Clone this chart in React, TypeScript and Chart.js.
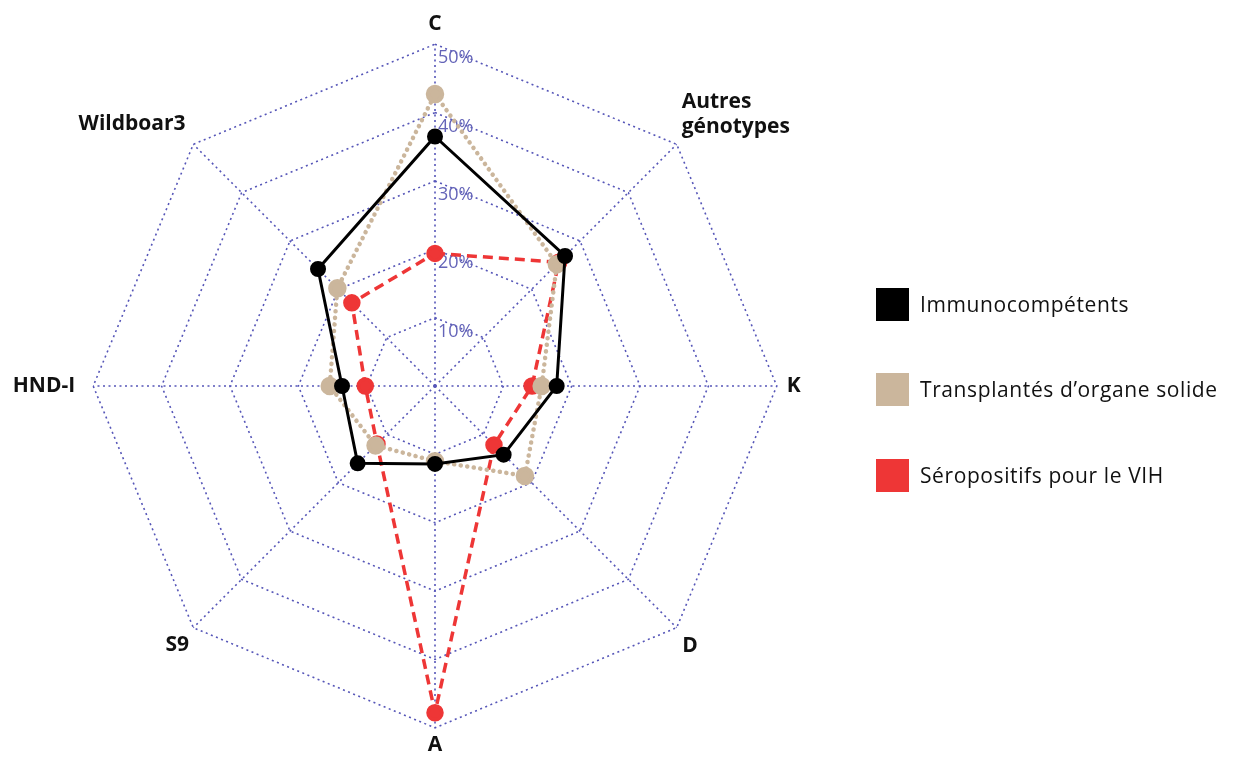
import React, { useEffect, useRef } from "react";
import { Chart, registerables } from "chart.js";

Chart.register(...registerables);

// ---- data ----
const categories: (string | string[])[] = ["C", ["Autres", "génotypes"], "K", "D", "A", "S9", "HND-I", "Wildboar3"];
const immunocompetents = [36.5, 26.9, 17.8, 14.2, 11.4, 16.0, 13.6, 24.2];
const transplantes = [42.7, 25.2, 15.6, 18.6, 11.0, 12.3, 15.4, 20.2];
const seropositifs = [19.4, 25.6, 14.2, 12.2, 47.8, 12.0, 10.2, 17.2];
const seriesNames = ["Immunocompétents", "Transplantés d’organe solide", "Séropositifs pour le VIH"];
const seriesColors = ["#000000", "#cbb69c", "#ee3636"];
const scaleMax = 50;
const scaleStep = 10;
const labelPadding = [8, 7, 10, 8, 5, 6, 18, 11];

const gridColor = "#5656b8";
const tickColor = "#6464b8";

const tickLabelPlugin = {
  id: "tickLabelsRight",
  beforeDatasetsDraw(chart: any) {
    const scale = chart.scales.r;
    const ctx = chart.ctx;
    ctx.save();
    ctx.font = '500 18px "Open Sans"';
    ctx.fillStyle = tickColor;
    ctx.textAlign = "left";
    ctx.textBaseline = "middle";
    scale.ticks.forEach((t: any) => {
      if (t.value <= 0) return;
      const p = scale.getPointPositionForValue(0, t.value);
      ctx.fillText(`${t.value}%`, p.x + 3, p.y + 14);
    });
    ctx.restore();
  },
};

export default function App() {
  const canvasRef = useRef<HTMLCanvasElement | null>(null);

  useEffect(() => {
    document.body.style.margin = "0";
    const canvas = canvasRef.current;
    if (!canvas) return;
    const chart = new Chart(canvas, {
      type: "radar",
      data: {
        labels: categories as any,
        datasets: [
          {
            label: seriesNames[0],
            data: immunocompetents,
            borderColor: seriesColors[0],
            backgroundColor: seriesColors[0],
            pointBackgroundColor: seriesColors[0],
            pointBorderColor: seriesColors[0],
            borderWidth: 3,
            pointRadius: 6.5,
            fill: false,
          },
          {
            label: seriesNames[1],
            data: transplantes,
            borderColor: seriesColors[1],
            backgroundColor: seriesColors[1],
            pointBackgroundColor: seriesColors[1],
            pointBorderColor: seriesColors[1],
            borderWidth: 4.5,
            borderDash: [0.1, 6.5],
            borderCapStyle: "round",
            pointRadius: 7,
            fill: false,
          },
          {
            label: seriesNames[2],
            data: seropositifs,
            borderColor: seriesColors[2],
            backgroundColor: seriesColors[2],
            pointBackgroundColor: seriesColors[2],
            pointBorderColor: seriesColors[2],
            borderWidth: 3.5,
            borderDash: [10, 6],
            pointRadius: 7,
            fill: false,
          },
        ],
      },
      options: {
        animation: false,
        responsive: false,
        events: [],
        plugins: {
          legend: { display: false },
          tooltip: { enabled: false },
        },
        scales: {
          r: {
            min: 0,
            max: scaleMax,
            ticks: { stepSize: scaleStep, display: false, callback: (v: any) => `${v}%` },
            grid: { color: gridColor, lineWidth: 1.6, circular: false, borderDash: [2, 3.5] } as any,
            border: { dash: [2, 3.5] } as any,
            angleLines: { color: gridColor, lineWidth: 1.6, borderDash: [2, 3.5] },
            pointLabels: {
              color: "#111111",
              font: { family: '"Open Sans"', size: 21, weight: "bold" as any },
              padding: (ctx: any) => labelPadding[ctx.index] ?? 8,
            },
          },
        },
      },
      plugins: [tickLabelPlugin],
    });
    return () => chart.destroy();
  }, []);

  const legendRows = [304, 389, 475];

  return (
    <div style={{ position: "relative", width: 1242, height: 760, overflow: "hidden", background: "#fff" }}>
      <canvas
        ref={canvasRef}
        width={910}
        height={750}
        style={{ position: "absolute", left: -20, top: 10, width: 910, height: 750 }}
      />
      {seriesNames.map((name, i) => (
        <div
          key={name}
          style={{
            position: "absolute",
            left: 876,
            top: legendRows[i] - 17,
            height: 34,
            display: "flex",
            alignItems: "center",
            zIndex: 2,
          }}
        >
          <div style={{ width: 33, height: 33, background: seriesColors[i], flex: "none" }} />
          <span
            style={{
              marginLeft: 11,
              fontFamily: '"Open Sans", sans-serif',
              fontSize: 21,
              letterSpacing: 0.6,
              color: "#111",
              whiteSpace: "nowrap",
            }}
          >
            {name}
          </span>
        </div>
      ))}
    </div>
  );
}
